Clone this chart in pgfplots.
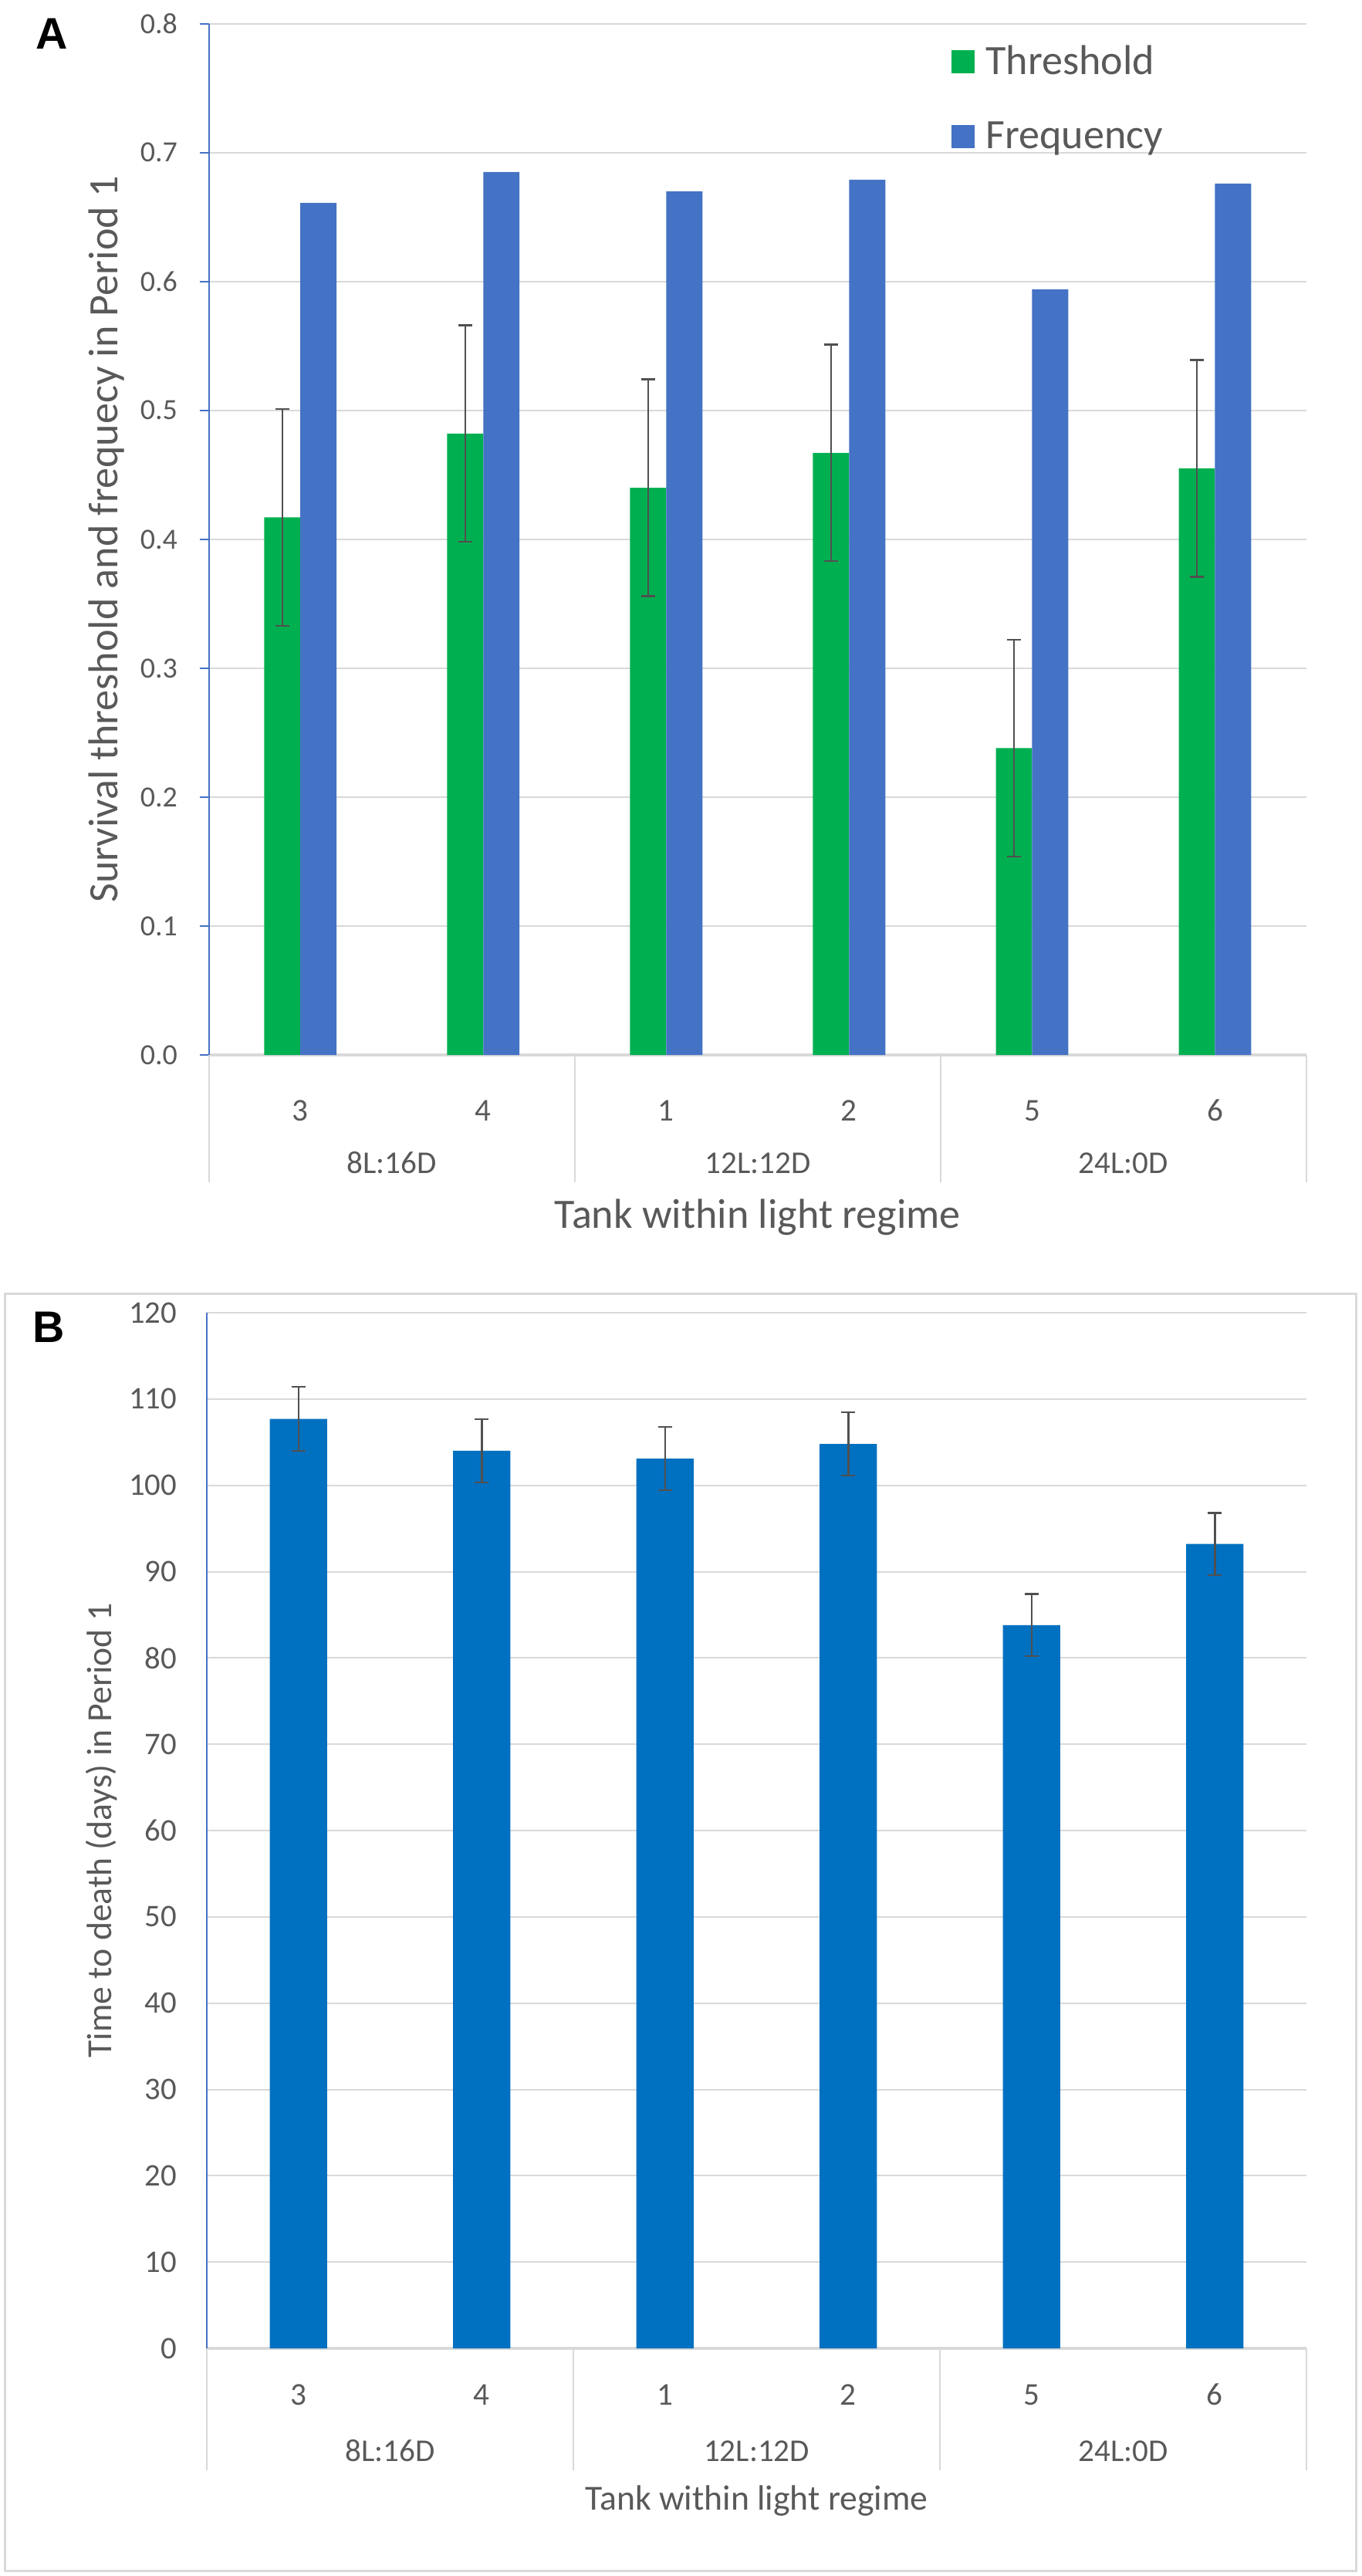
\documentclass[border=0pt]{standalone}
\usepackage{fontspec}
\setmainfont{Carlito}
\newfontfamily\arialfont{Liberation Sans}
\usepackage{pgfplots}
\pgfplotsset{compat=1.18}

\definecolor{thrgreen}{HTML}{00B050}
\definecolor{freqblue}{HTML}{4472C4}
\definecolor{deathblue}{HTML}{0070C0}
\definecolor{axblue}{HTML}{4472C4}
\definecolor{gridgray}{HTML}{D9D9D9}
\definecolor{textgray}{HTML}{595959}
\definecolor{errgray}{HTML}{505050}

\newcommand{\fs}[1]{\fontsize{#1}{#1}\selectfont}

\pgfplotsset{
  panel/.style={
    scale only axis, clip=false,
    xmin=0.5, xmax=6.5, ymin=0,
    axis x line*=bottom, axis y line*=left,
    x axis line style={draw=gridgray, line width=0.35mm},
    y axis line style={draw=axblue, line width=0.2mm},
    xtick={1,...,6}, xticklabels={3,4,1,2,5,6},
    xtick style={draw=none},
    xticklabel style={anchor=center, yshift=-6mm, font=\fs{11.7}, text=textgray},
    ymajorgrids, grid style={draw=gridgray, line width=0.2mm},
    /pgf/number format/assume math mode=true,
    error bars/error bar style={draw=errgray, line width=0.25mm},
    error bars/error mark options={rotate=90, draw=errgray, line width=0.25mm, mark size=0.9mm},
  },
}

\begin{document}
\begin{tikzpicture}
\path[use as bounding box] (0,0) rectangle (176.4mm,-333.8mm);
\draw[gridgray, line width=0.3mm] (0.6mm,-167.6mm) rectangle (175.7mm,-333.1mm);
\node[font=\arialfont\bfseries\fs{16.3}] at (6.75mm,-4.35mm) {A};
\node[font=\arialfont\bfseries\fs{16.3}] at (6.35mm,-172.0mm) {B};

% Panel A
\begin{axis}[panel,
  at={(27.07mm,-136.7mm)}, anchor=south west,
  width=142.23mm, height=133.63mm,
  ymax=0.8, ytick distance=0.1,
  tick align=outside, major tick length=1.2mm,
  ytick style={draw=axblue, line width=0.2mm},
  yticklabel style={anchor=east, inner sep=0pt, xshift=-2.8mm, font=\fs{10.8}, text=textgray,
    /pgf/number format/.cd, fixed, fixed zerofill, precision=1},
  ylabel={Survival threshold and frequecy in Period 1},
  ylabel style={at={([xshift=-13.3mm]axis description cs:0,0.5)}, anchor=center, font=\fs{15.4}, text=textgray},
  xlabel={Tank within light regime},
  xlabel style={at={(axis description cs:0.5,0)}, anchor=center, yshift=-21mm, font=\fs{15.4}, text=textgray},
  ybar, bar width=0.198,
  legend style={draw=none, fill=none, at={(0.669,0.985)}, anchor=north west,
    font=\fs{15.4}, text=textgray, cells={anchor=west},
    row sep=5.6mm, column sep=1.4mm, nodes={inner sep=0pt}},
  legend image code/.code={\draw[#1, draw=none] (0mm,-1.5mm) rectangle (3mm,1.5mm);},
]
\addplot[fill=thrgreen, draw=none, bar shift=-0.099,
  error bars/.cd, y dir=both, y explicit]
  coordinates {(1,0.417) +- (0,0.084) (2,0.482) +- (0,0.084) (3,0.440) +- (0,0.084)
               (4,0.467) +- (0,0.084) (5,0.238) +- (0,0.084) (6,0.455) +- (0,0.084)};
\addplot[fill=freqblue, draw=none, bar shift=0.099]
  coordinates {(1,0.661) (2,0.685) (3,0.670) (4,0.679) (5,0.594) (6,0.676)};
\legend{Threshold, Frequency}
\draw[gridgray, line width=0.2mm] (axis cs:0.5,0) -- ([yshift=-16.5mm]axis cs:0.5,0);
\draw[gridgray, line width=0.2mm] (axis cs:2.5,0) -- ([yshift=-16.5mm]axis cs:2.5,0);
\draw[gridgray, line width=0.2mm] (axis cs:4.5,0) -- ([yshift=-16.5mm]axis cs:4.5,0);
\draw[gridgray, line width=0.2mm] (axis cs:6.5,0) -- ([yshift=-16.5mm]axis cs:6.5,0);
\node[font=\fs{11.7}, text=textgray] at ([yshift=-14mm]axis cs:1.5,0) {8L:16D};
\node[font=\fs{11.7}, text=textgray] at ([yshift=-14mm]axis cs:3.5,0) {12L:12D};
\node[font=\fs{11.7}, text=textgray] at ([yshift=-14mm]axis cs:5.5,0) {24L:0D};
\end{axis}

% Panel B
\begin{axis}[panel,
  at={(26.8mm,-304.3mm)}, anchor=south west,
  width=142.5mm, height=134.2mm,
  ymax=120, ytick distance=10,
  major tick length=0mm, ytick style={draw=none},
  yticklabel style={anchor=east, inner sep=0pt, xshift=-3.8mm, font=\fs{11.6}, text=textgray},
  ylabel={Time to death (days) in Period 1},
  ylabel style={at={([xshift=-13.7mm]axis description cs:0,0.5)}, anchor=center, font=\fs{13}, text=textgray},
  xlabel={Tank within light regime},
  xlabel style={at={(axis description cs:0.5,0)}, anchor=center, yshift=-19.8mm, font=\fs{13}, text=textgray},
  ybar, bar width=0.312,
]
\addplot[fill=deathblue, draw=none, bar shift=0,
  error bars/.cd, y dir=both, y explicit]
  coordinates {(1,107.7) +- (0,3.7) (2,104.0) +- (0,3.65) (3,103.1) +- (0,3.65)
               (4,104.8) +- (0,3.65) (5,83.8) +- (0,3.6) (6,93.2) +- (0,3.6)};
\draw[gridgray, line width=0.2mm] (axis cs:0.5,0) -- ([yshift=-15.8mm]axis cs:0.5,0);
\draw[gridgray, line width=0.2mm] (axis cs:2.5,0) -- ([yshift=-15.8mm]axis cs:2.5,0);
\draw[gridgray, line width=0.2mm] (axis cs:4.5,0) -- ([yshift=-15.8mm]axis cs:4.5,0);
\draw[gridgray, line width=0.2mm] (axis cs:6.5,0) -- ([yshift=-15.8mm]axis cs:6.5,0);
\node[font=\fs{11.7}, text=textgray] at ([yshift=-13.3mm]axis cs:1.5,0) {8L:16D};
\node[font=\fs{11.7}, text=textgray] at ([yshift=-13.3mm]axis cs:3.5,0) {12L:12D};
\node[font=\fs{11.7}, text=textgray] at ([yshift=-13.3mm]axis cs:5.5,0) {24L:0D};
\end{axis}
\end{tikzpicture}
\end{document}
